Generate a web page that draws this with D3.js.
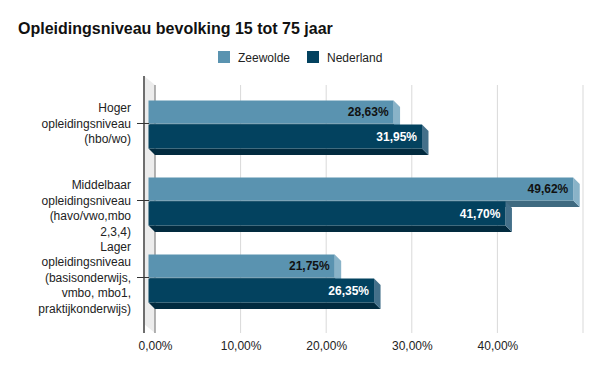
<!DOCTYPE html>
<html>
<head>
<meta charset="utf-8">
<script src="https://cdn.jsdelivr.net/npm/d3@7"></script>
<style>
  html, body { margin: 0; padding: 0; background: #fff; }
  svg { display: block; font-family: "Liberation Sans", Arial, sans-serif; }
</style>
</head>
<body>
<svg id="chart" width="602" height="372"></svg>
<script>
// ---- data ----
const categories = ["Hoger", "Middelbaar", "Lager"];
const categoryLabels = [
  ["Hoger", "opleidingsniveau", "(hbo/wo)"],
  ["Middelbaar", "opleidingsniveau", "(havo/vwo,mbo", "2,3,4)"],
  ["Lager", "opleidingsniveau", "(basisonderwijs,", "vmbo, mbo1,", "praktijkonderwijs)"]
];
const seriesNames = ["Zeewolde", "Nederland"];
const zeewolde = [28.63, 49.62, 21.75];
const nederland = [31.95, 41.70, 26.35];
const gridTicks = [0, 10, 20, 30, 40, 50];
const labelTicks = [0, 10, 20, 30, 40];
const title = "Opleidingsniveau bevolking 15 tot 75 jaar";

// ---- styles ----
const colors = {
  Zeewolde: { front: "#5a93b0", side: "#89b3c8", bottom: "#3f6a80" },
  Nederland: { front: "#03425f", side: "#44708a", bottom: "#022b3f" }
};
const depth = 6.5;

const svg = d3.select("#chart");
const nl = d3.formatLocale({ decimal: ",", thousands: ".", grouping: [3], currency: ["", "€"] });
const fmt = v => nl.format(".2f")(v) + "%";

// scales (back plane)
const x = d3.scaleLinear().domain([0, 50]).range([155, 583]);
const backTop = 85, backBottom = 333;
// front plane band scale
const y = d3.scaleBand().domain(categories)
  .range([backTop - depth - 1, backBottom - depth - 1])
  .paddingInner(29 / 77).paddingOuter(0.2987);
const ySub = d3.scaleBand().domain(seriesNames).range([0, y.bandwidth()]);

// title
svg.append("text").attr("x", 18).attr("y", 34)
  .attr("font-size", 16).attr("font-weight", "bold").attr("fill", "#111")
  .text(title);

// legend
const legendX = [218, 307];
seriesNames.forEach((s, i) => {
  svg.append("rect").attr("x", legendX[i]).attr("y", 51).attr("width", 12).attr("height", 12)
    .attr("fill", colors[s].front);
  svg.append("text").attr("x", legendX[i] + 20).attr("y", 62)
    .attr("font-size", 12).attr("fill", "#222").text(s);
});

// left wall
const wallFront = x(0) - 2 * depth + 2;
svg.append("polygon")
  .attr("points", [[wallFront, backTop - 9], [x(0), backTop], [x(0), backBottom], [wallFront, backBottom - 9]].join(" "))
  .attr("fill", "#ececec");

// gridlines
svg.append("g").selectAll("line").data(gridTicks).join("line")
  .attr("x1", d => x(d)).attr("x2", d => x(d))
  .attr("y1", backTop).attr("y2", backBottom)
  .attr("stroke", d => d === 0 ? "#9a9a9a" : "#d9d9d9").attr("stroke-width", d => d === 0 ? 1.5 : 1);

svg.append("line").attr("x1", wallFront).attr("x2", wallFront)
  .attr("y1", backTop - 9).attr("y2", backBottom)
  .attr("stroke", "#6e6e6e").attr("stroke-width", 2);

// bars
const rows = [];
categories.forEach((c, i) => {
  rows.push({ cat: c, series: "Zeewolde", value: zeewolde[i] });
  rows.push({ cat: c, series: "Nederland", value: nederland[i] });
});

const gBars = svg.append("g");
rows.forEach(r => {
  const col = colors[r.series];
  const x0 = x(0) - depth, x1 = x(r.value) - depth;
  const y0 = y(r.cat) + ySub(r.series);
  const h = ySub.bandwidth() - (r.series === "Zeewolde" ? 1 : 0);
  const g = gBars.append("g");
  g.append("polygon")
    .attr("points", [[x0, y0 + h], [x1, y0 + h], [x1 + depth, y0 + h + depth], [x0 + depth, y0 + h + depth]].join(" "))
    .attr("fill", col.bottom);
  g.append("polygon")
    .attr("points", [[x1, y0], [x1 + depth, y0 + depth], [x1 + depth, y0 + h + depth], [x1, y0 + h]].join(" "))
    .attr("fill", col.side);
  g.append("rect").attr("x", x0).attr("y", y0).attr("width", x1 - x0).attr("height", h)
    .attr("fill", col.front);
  g.append("text").attr("x", x1 - 5).attr("y", y0 + h / 2).attr("dy", "0.36em")
    .attr("text-anchor", "end").attr("font-size", 12).attr("font-weight", "bold")
    .attr("fill", r.series === "Zeewolde" ? "#111" : "#fff")
    .text(fmt(r.value));
});

// category ticks & labels
categories.forEach((c, i) => {
  const ty = y(c) + ySub.bandwidth() - 1;
  svg.append("line").attr("x1", 137).attr("x2", 149).attr("y1", ty).attr("y2", ty)
    .attr("stroke", "#333").attr("stroke-width", 1);
  const lines = categoryLabels[i];
  const start = -Math.floor((lines.length - 1) / 2);
  const t = svg.append("text").attr("text-anchor", "end").attr("font-size", 12).attr("fill", "#222");
  lines.forEach((ln, j) => {
    t.append("tspan").attr("x", 131).attr("y", ty + (start + j) * 15.5).attr("dy", "0.36em").text(ln);
  });
});

// x axis labels
const axis = d3.axisBottom(x).tickValues(labelTicks).tickSize(0).tickPadding(8).tickFormat(fmt);
const ga = svg.append("g").attr("transform", `translate(0,${backBottom})`).call(axis);
ga.select(".domain").remove();
ga.selectAll("text").attr("font-size", 12).attr("fill", "#222")
  .attr("font-family", "\"Liberation Sans\", Arial, sans-serif");
</script>
</body>
</html>
